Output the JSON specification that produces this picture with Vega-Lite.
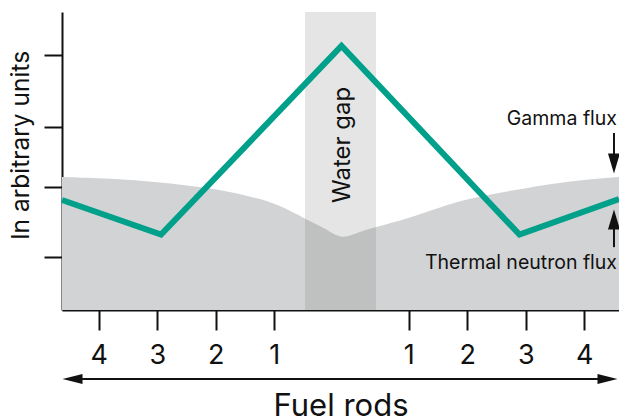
{
  "$schema": "https://vega.github.io/schema/vega-lite/v6.json",
  "width": 557,
  "height": 298,
  "autosize": "none",
  "padding": {"left": 62, "top": 12, "right": 0, "bottom": 109},
  "background": "white",
  "config": {"view": {"stroke": null}, "font": "Inter"},
  "datasets": {
    "neutron": [
      {"x": -4.778, "y": 44.63}, {"x": -3.957, "y": 44.13}, {"x": -3.103, "y": 42.95},
      {"x": -2.248, "y": 40.94}, {"x": -1.564, "y": 38.26}, {"x": -1.051, "y": 35.23},
      {"x": -0.624, "y": 30.54}, {"x": -0.282, "y": 27.52}, {"x": 0.009, "y": 23.49},
      {"x": 0.282, "y": 26.17}, {"x": 0.59, "y": 27.85}, {"x": 1.12, "y": 30.54},
      {"x": 1.684, "y": 34.56}, {"x": 2.248, "y": 37.75}, {"x": 2.88, "y": 39.93},
      {"x": 3.735, "y": 42.95}, {"x": 4.744, "y": 44.63}
    ],
    "gamma": [
      {"x": -4.778, "y": 36.9}, {"x": -3.085, "y": 25.3}, {"x": 0.0, "y": 88.6},
      {"x": 3.043, "y": 25.3}, {"x": 4.744, "y": 37.2}
    ],
    "gap": [{"x": -0.624, "x2": 0.59, "y": 0, "y2": 100}],
    "gaplabel": [{"x": 0.02, "y": 55.4, "t": "Water gap"}],
    "notes": [
      {"x": 4.71, "y": 64.1, "t": "Gamma flux"},
      {"x": 4.71, "y": 15.8, "t": "Thermal neutron flux"}
    ],
    "shafts": [
      {"x": 4.658, "x2": 4.658, "y": 59.4, "y2": 49.0},
      {"x": 4.658, "x2": 4.658, "y": 21.1, "y2": 31.0},
      {"x": -4.6, "x2": 4.55, "y": -23.15, "y2": -23.15}
    ],
    "heads": [
      {"x": 4.658, "y": 49.2, "s": "M-0.6,-1L0.6,-1L0,1Z"},
      {"x": 4.658, "y": 30.4, "s": "M-0.6,1L0.6,1L0,-1Z"},
      {"x": -4.598, "y": -23.15, "s": "M-1,0L1,-0.5L1,0.5Z"},
      {"x": 4.547, "y": -23.15, "s": "M1,0L-1,-0.5L-1,0.5Z"}
    ]
  },
  "layer": [
    {
      "data": {"name": "neutron"},
      "mark": {"type": "area", "color": "#d1d3d4", "interpolate": "basis"},
      "encoding": {
        "x": {
          "field": "x", "type": "quantitative",
          "scale": {"domain": [-4.778, 4.744], "nice": false, "zero": false},
          "axis": {
            "values": [-4.15, -3.15, -2.15, -1.15, 1.15, 2.15, 3.15, 4.15],
            "labelExpr": "format(abs(datum.value) - 0.15, '.0f')",
            "grid": false,
            "domainColor": "#111111", "domainWidth": 2,
            "tickColor": "#111111", "tickWidth": 2, "tickSize": 20,
            "labelFontSize": 27, "labelColor": "#111111", "labelPadding": 33,
            "labelBaseline": "alphabetic", "labelFont": "Inter", "labelFontWeight": 400,
            "title": "Fuel rods", "titleFontSize": 31, "titleFontWeight": 400,
            "titleColor": "#111111", "titleY": 105, "titleBaseline": "alphabetic",
            "titleFont": "Inter"
          }
        },
        "y": {
          "field": "y", "type": "quantitative",
          "scale": {"domain": [0, 100], "nice": false},
          "axis": {
            "values": [85.6, 61.4, 41.3, 17.8],
            "labels": false, "grid": false,
            "domainColor": "#111111", "domainWidth": 2,
            "tickColor": "#111111", "tickWidth": 2, "tickSize": 18,
            "title": "In arbitrary units", "titleFontSize": 24.5, "titleFontWeight": 400,
            "titleColor": "#111111", "titleX": -41, "titleY": 133,
            "titleAngle": -90, "titleAlign": "center", "titleBaseline": "middle",
            "titleFont": "Inter"
          }
        }
      }
    },
    {
      "data": {"name": "gap"},
      "mark": {"type": "rect", "color": "#6d6e70", "opacity": 0.18},
      "encoding": {
        "x": {"field": "x", "type": "quantitative"},
        "x2": {"field": "x2"},
        "y": {"field": "y", "type": "quantitative"},
        "y2": {"field": "y2"}
      }
    },
    {
      "data": {"name": "gamma"},
      "mark": {"type": "line", "color": "#00a08a", "strokeWidth": 6, "strokeJoin": "miter", "clip": false},
      "encoding": {
        "x": {"field": "x", "type": "quantitative"},
        "y": {"field": "y", "type": "quantitative"}
      }
    },
    {
      "data": {"name": "gaplabel"},
      "mark": {"type": "text", "angle": 270, "fontSize": 24, "fontWeight": 400, "color": "#111111", "align": "center", "baseline": "middle", "font": "Inter"},
      "encoding": {
        "x": {"field": "x", "type": "quantitative"},
        "y": {"field": "y", "type": "quantitative"},
        "text": {"field": "t"}
      }
    },
    {
      "data": {"name": "notes"},
      "mark": {"type": "text", "fontSize": 19.5, "fontWeight": 400, "color": "#111111", "align": "right", "baseline": "middle", "font": "Inter", "clip": false},
      "encoding": {
        "x": {"field": "x", "type": "quantitative"},
        "y": {"field": "y", "type": "quantitative"},
        "text": {"field": "t"}
      }
    },
    {
      "data": {"name": "shafts"},
      "mark": {"type": "rule", "color": "#111111", "strokeWidth": 2, "clip": false},
      "encoding": {
        "x": {"field": "x", "type": "quantitative"},
        "x2": {"field": "x2"},
        "y": {"field": "y", "type": "quantitative"},
        "y2": {"field": "y2"}
      }
    },
    {
      "data": {"name": "heads"},
      "mark": {"type": "point", "filled": true, "color": "#111111", "opacity": 1, "size": 400, "clip": false},
      "encoding": {
        "x": {"field": "x", "type": "quantitative"},
        "y": {"field": "y", "type": "quantitative"},
        "shape": {"field": "s", "type": "nominal", "scale": null}
      }
    }
  ]
}
